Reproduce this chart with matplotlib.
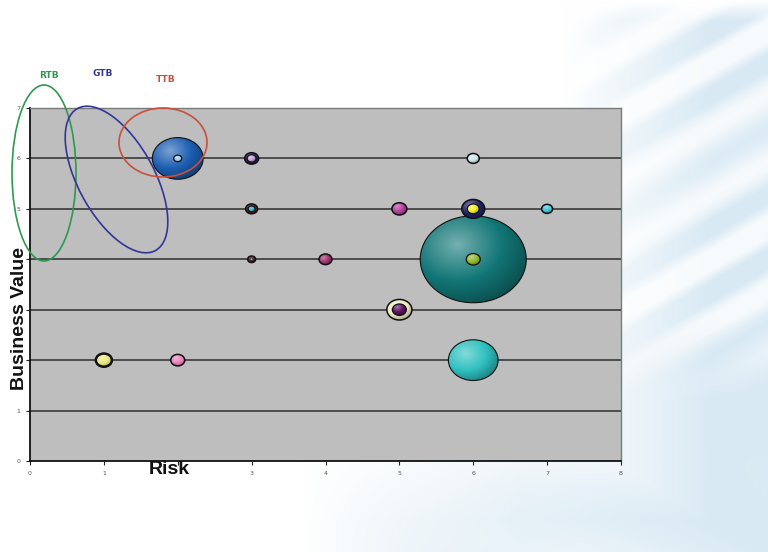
import numpy as np
import matplotlib
matplotlib.use("Agg")
import matplotlib.pyplot as plt
from matplotlib.patches import Ellipse
from matplotlib.transforms import Affine2D
from matplotlib.colors import to_rgb

W, H, DPI = 768, 552, 100

# ---- data: outer bubbles (risk, business value, bubble size) ----
risk = [6, 2, 6, 5, 6, 1, 5, 2, 3, 4, 3, 6, 7, 3]
value = [4, 6, 2, 3, 5, 2, 5, 2, 6, 4, 5, 6, 5, 4]
bubble_size = [100, 23, 22, 5.6, 4.7, 2.3, 2.0, 1.75, 1.75, 1.5, 1.3, 1.3, 1.08, 0.57]
bubble_color = ["#127676", "#1d5eb2", "#2fc0c0", "#ecebc4", "#22226e", "#e8e87a",
                "#b4409e", "#ea82ba", "#2a2a66", "#a2306c", "#6a1224", "#cfe9ee",
                "#44c8d8", "#3c1a3c"]

# ---- data: inner bubbles drawn on top ----
inner_risk = [6, 5, 6, 3, 2, 3, 3]
inner_value = [4, 3, 5, 6, 6, 5, 4]
inner_size = [1.75, 1.75, 1.28, 0.72, 0.57, 0.44, 0.08]
inner_color = ["#92ba30", "#5c1262", "#f2f022", "#caa4dc", "#a4cce8", "#22bad2", "#e08a30"]

x_ticks = [0, 1, 2, 3, 4, 5, 6, 7, 8]
x_tick_labels = ["0", "1", "", "3", "4", "5", "6", "7", "8"]
y_ticks = [0, 1, 2, 3, 4, 5, 6, 7]
y_tick_labels = ["0", "1", "", "", "", "5", "6", "7"]

fig = plt.figure(figsize=(W / DPI, H / DPI), dpi=DPI)

# ---- soft blue streaked backdrop ----
yy, xx = np.mgrid[0:H, 0:W].astype(float)
w_right = np.clip((xx - 560) / 150, 0, 1)
w_bottom = np.clip((yy - 430) / 90, 0, 1) * np.clip((xx - 300) / 220, 0, 1)
w = np.clip(np.maximum(w_right, w_bottom), 0, 1)
u = xx * 0.5 + yy * 0.866
bands = np.clip(0.5 + 0.9 * np.sin(u / 9.0) * (0.7 + 0.3 * np.sin(u / 31.0 + 1.3)), 0, 1)
streak_zone = np.clip((400 - yy) / 80, 0, 1)
w = w * (1 - 0.8 * bands * streak_zone)
haze = np.clip((yy - 440) / 110, 0, 1) * (0.5 + 0.5 * np.sin((xx * 0.6 - yy) / 45.0))
w = w * (1 - 0.45 * haze)
w = w * np.clip(yy / 20, 0, 1)
blue = np.array([0.85, 0.915, 0.955])
bg = np.ones((H, W, 3)) * (1 - w[..., None]) + blue * w[..., None]
bg_ax = fig.add_axes([0, 0, 1, 1], zorder=-10)
bg_ax.imshow(bg, aspect="auto", interpolation="bilinear")
bg_ax.axis("off")

# ---- main plot area ----
left, right, top, bottom = 30, 621, 108, 461
ax = fig.add_axes([left / W, 1 - bottom / H, (right - left) / W, (bottom - top) / H])
ax.set_facecolor("#bebebe")
sx = (right - left) / 8.0   # px per risk unit
sy = (bottom - top) / 7.0   # px per value unit

for yv in y_ticks[1:-1]:
    ax.axhline(yv, color="#2e2e2e", lw=1.1, zorder=1)


def shaded_bubble(x, y, s, color, lw, z):
    wpx = 10.6 * np.sqrt(s)
    wd, hd = wpx / sx, 0.82 * wpx / sy
    n = 90
    v, uu = np.mgrid[-1:1:n * 1j, -1:1:n * 1j]
    d = np.clip(np.sqrt((uu + 0.3) ** 2 + (v - 0.35) ** 2) / 1.55, 0, 1)
    base = np.array(to_rgb(color))
    light = base + (1 - base) * 0.42
    dark = base * 0.62
    t1 = np.clip(d / 0.55, 0, 1)[..., None]
    t2 = np.clip((d - 0.55) / 0.45, 0, 1)[..., None]
    rgb = light * (1 - t1) + base * t1
    rgb = rgb * (1 - t2) + dark * t2
    im = ax.imshow(rgb, extent=(x - wd / 2, x + wd / 2, y - hd / 2, y + hd / 2),
                   origin="lower", interpolation="bilinear", aspect="auto", zorder=z)
    e = Ellipse((x, y), wd, hd, facecolor="none", edgecolor="#111111", lw=lw, zorder=z + 0.01)
    ax.add_patch(e)
    im.set_clip_path(e)


for i, (x, y, s, c) in enumerate(zip(risk, value, bubble_size, bubble_color)):
    lw = 0.8 if s > 10 else (1.8 if c == "#e8e87a" else 1.1)
    shaded_bubble(x, y, s, c, lw, 3 + i * 0.1)
for i, (x, y, s, c) in enumerate(zip(inner_risk, inner_value, inner_size, inner_color)):
    shaded_bubble(x, y, s, c, 0.9 if s > 0.3 else 0.3, 6 + i * 0.1)

ax.set_xlim(0, 8)
ax.set_ylim(0, 7)
ax.set_xticks(x_ticks)
ax.set_yticks(y_ticks)
ax.set_xticklabels(x_tick_labels)
ax.set_yticklabels(y_tick_labels)
ax.tick_params(axis="both", length=3, width=0.8, color="#222222", labelsize=4.5,
               labelcolor="#555555", direction="out", pad=4)
for side in ("left", "bottom"):
    ax.spines[side].set_color("#111111")
    ax.spines[side].set_linewidth(1.3)
for side in ("top", "right"):
    ax.spines[side].set_color("#7a7a7a")
    ax.spines[side].set_linewidth(1.0)

# axis titles
fig.text(20 / W, 1 - 318 / H, "Business Value", rotation=90, ha="center", va="center",
         fontsize=14, fontweight="bold", family="Liberation Sans", color="#111111")
fig.text(169 / W, 1 - 470 / H, "Risk", ha="center", va="center", fontsize=14,
         fontweight="bold", family="Liberation Sans", color="#111111")

# ---- grouping outlines (pixel space, y pointing down) ----
pix = Affine2D().scale(1, -1).translate(0, H)
groups = [
    ("RTB", "#2e9a50", (44, 173), 64, 176, 0, (49, 76)),
    ("GTB", "#34349a", (116.5, 179.5), 162, 76, 61.2, (103, 73)),
    ("TTB", "#c8503c", (163, 142.5), 88, 69, 0, (166, 80)),
]
for name, col, ctr, gw, gh, ang, lab in groups:
    fig.patches.append(Ellipse(ctr, gw, gh, angle=ang, facecolor="none", edgecolor=col,
                               lw=1.2, transform=pix, figure=fig, zorder=20))
    fig.text(lab[0] / W, 1 - lab[1] / H, name, ha="center", va="center", fontsize=6.5,
             fontweight="bold", family="DejaVu Sans", color=col, zorder=21)

fig.savefig("out.png", dpi=DPI)
